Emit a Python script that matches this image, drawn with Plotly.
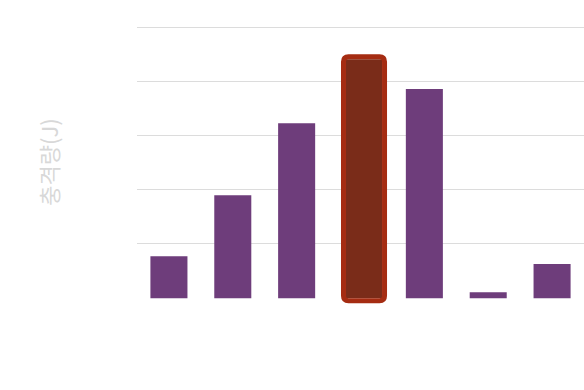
import plotly.graph_objects as go

# ---- data ----
categories = ["1", "2", "3", "4", "5", "6", "7"]
values = [0.775, 1.90, 3.23, 4.41, 3.86, 0.11, 0.63]
highlight_index = 3
y_title = "충격량(J)"
grid_vals = [1, 2, 3, 4, 5]

# ---- style ----
W, H = 584, 390
y_lo, y_hi = -0.2, 5.06
unit_px = 54.2
MT = 27 - (y_hi - 5) * unit_px
plot_h = (y_hi - y_lo) * unit_px
MB = H - MT - plot_h
ML, MR = 137, 0
bar_width = 0.58
purple = "#6e3d7b"
hl_fill = "#7a2c19"
hl_line = "#a52c12"
hl_shift = 0.055

xs = list(range(len(categories)))
plot_w = W - ML - MR
px_x = len(categories) / plot_w
px_y = 1 / unit_px

fig = go.Figure()
normal_x = [x for x in xs if x != highlight_index]
normal_y = [values[x] for x in normal_x]
fig.add_trace(go.Bar(x=normal_x, y=normal_y, width=bar_width,
                     marker=dict(color=purple, line=dict(width=0)),
                     hoverinfo="skip", showlegend=False))
hx = highlight_index + hl_shift
hy = values[highlight_index]
fig.add_trace(go.Bar(x=[hx], y=[hy], width=bar_width - 1 * px_x,
                     marker=dict(color=hl_fill, line=dict(width=0)),
                     hoverinfo="skip", showlegend=False))

# rounded outline around highlighted bar
ext_x = 2.5 * px_x
ext_y = 2.5 * px_y
half = (bar_width - 1 * px_x) / 2
x0 = hx - half - ext_x
x1 = hx + half + ext_x
y0 = 0 - ext_y
y1 = hy + ext_y
rx = 5 * px_x
ry = 5 * px_y
path = (f"M {x0+rx},{y0} L {x1-rx},{y0} Q {x1},{y0} {x1},{y0+ry} "
        f"L {x1},{y1-ry} Q {x1},{y1} {x1-rx},{y1} "
        f"L {x0+rx},{y1} Q {x0},{y1} {x0},{y1-ry} "
        f"L {x0},{y0+ry} Q {x0},{y0} {x0+rx},{y0} Z")
fig.add_shape(type="path", path=path, xref="x", yref="y",
              line=dict(color=hl_line, width=5), fillcolor="rgba(0,0,0,0)",
              layer="above")

fig.add_annotation(text=y_title, xref="paper", yref="y", x=0, y=2.5,
                   xanchor="center", yanchor="middle", xshift=-89,
                   textangle=-90, showarrow=False,
                   font=dict(size=22, color="#d8d8d8"))

fig.update_layout(
    width=W, height=H,
    margin=dict(l=ML, r=MR, t=MT, b=MB, pad=0),
    paper_bgcolor="white", plot_bgcolor="white",
    font=dict(family="Noto Sans CJK KR, Noto Sans, sans-serif"),
    xaxis=dict(range=[-0.5, len(categories) - 0.5], showticklabels=False,
               showgrid=False, zeroline=False, showline=False, ticks="",
               fixedrange=True, automargin=False),
    yaxis=dict(range=[y_lo, y_hi], tickvals=grid_vals, showticklabels=False,
               showgrid=True, gridcolor="#dcdcdc", gridwidth=1,
               zeroline=False, showline=False, ticks="", automargin=False),
)

fig.write_html("out.html")
